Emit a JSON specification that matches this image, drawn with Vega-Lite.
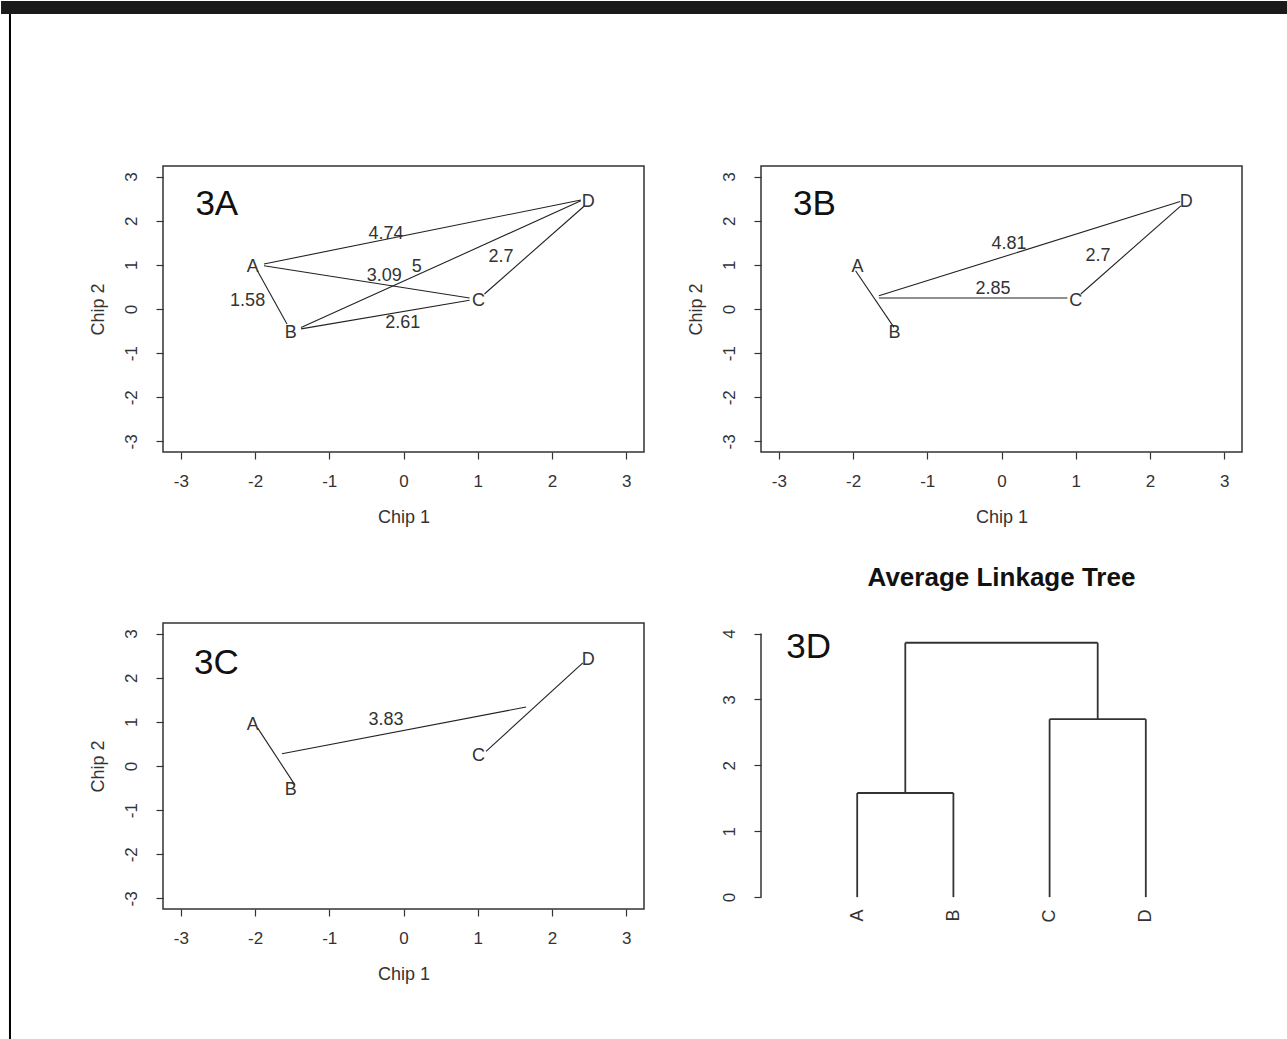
{
  "$schema": "https://vega.github.io/schema/vega-lite/v6.json",
  "padding": 0,
  "background": "white",
  "bounds": "flush",
  "columns": 2,
  "spacing": {"row": 171, "column": 117},
  "config": {
    "font": "Liberation Sans",
    "view": {"stroke": "#333", "strokeWidth": 1.5},
    "axis": {"grid": false, "domain": false, "tickColor": "#333", "tickSize": 7, "tickWidth": 1.2,
      "labelFont": "Liberation Sans", "labelFontSize": 17, "labelColor": "#333",
      "titleFont": "Liberation Sans", "titleFontSize": 18, "titleFontWeight": "normal", "titleColor": "#333",
      "labelExpr": "'' + datum.value"},
    "axisX": {"labelPadding": 14, "titlePadding": 19},
    "axisY": {"labelAngle": -90, "labelAlign": "center", "labelBaseline": "alphabetic", "labelPadding": 20, "titlePadding": 15},
    "text": {"font": "Liberation Sans", "color": "#333"}
  },
  "concat": [
    {
      "width": 481, "height": 286,
      "layer": [
        {
          "data": {"values": [{"part": "bar"}]},
          "mark": {"type": "rect", "color": "#1a1a1a"},
          "encoding": {
            "x": {"datum": -5.422, "type": "quantitative", "scale": {"domain": [-3.24, 3.24], "nice": false, "zero": false}},
            "x2": {"datum": 11.916},
            "y": {"datum": 6.978, "type": "quantitative", "scale": {"domain": [-3.24, 3.24], "nice": false, "zero": false}},
            "y2": {"datum": 6.684}
          }
        },
        {
          "data": {"values": [{"part": "edge"}]},
          "mark": {"type": "rect", "color": "#000"},
          "encoding": {
            "x": {"datum": -5.315, "type": "quantitative"},
            "x2": {"datum": -5.288},
            "y": {"datum": 6.684, "type": "quantitative"},
            "y2": {"datum": -16.56}
          }
        },
        {
          "data": {"values": [
            {"x": -1.88, "y": 1.02, "x2": 2.39, "y2": 2.47},
            {"x": -1.88, "y": 0.98, "x2": 0.89, "y2": 0.25},
            {"x": -1.38, "y": -0.42, "x2": 2.39, "y2": 2.45},
            {"x": -1.38, "y": -0.45, "x2": 0.89, "y2": 0.2},
            {"x": 1.09, "y": 0.34, "x2": 2.44, "y2": 2.34},
            {"x": -1.97, "y": 0.87, "x2": -1.57, "y2": -0.34}
          ]},
          "mark": {"type": "rule", "color": "#222", "strokeWidth": 1.1},
          "encoding": {
            "x": {"field": "x", "type": "quantitative", "scale": {"domain": [-3.24, 3.24], "nice": false, "zero": false},
              "axis": {"values": [-3, -2, -1, 0, 1, 2, 3], "title": "Chip 1"}},
            "y": {"field": "y", "type": "quantitative", "scale": {"domain": [-3.24, 3.24], "nice": false, "zero": false},
              "axis": {"values": [-3, -2, -1, 0, 1, 2, 3], "title": "Chip 2"}},
            "x2": {"field": "x2"},
            "y2": {"field": "y2"}
          }
        },
        {
          "data": {"values": [
            {"label": "A", "x": -2.03, "y": 0.96},
            {"label": "B", "x": -1.52, "y": -0.55},
            {"label": "C", "x": 1.01, "y": 0.19},
            {"label": "D", "x": 2.49, "y": 2.43},
            {"label": "4.74", "x": -0.236, "y": 1.71},
            {"label": "3.09", "x": -0.259, "y": 0.753},
            {"label": "5", "x": 0.178, "y": 0.957},
            {"label": "2.7", "x": 1.315, "y": 1.18},
            {"label": "1.58", "x": -2.1, "y": 0.188},
            {"label": "2.61", "x": -0.011, "y": -0.317}
          ]},
          "mark": {"type": "text", "fontSize": 18, "align": "center", "baseline": "middle"},
          "encoding": {
            "x": {"field": "x", "type": "quantitative"},
            "y": {"field": "y", "type": "quantitative"},
            "text": {"field": "label"}
          }
        },
        {
          "data": {"values": [{"label": "3A", "x": -2.515, "y": 2.375}]},
          "mark": {"type": "text", "fontSize": 35, "align": "center", "baseline": "middle", "color": "#111"},
          "encoding": {
            "x": {"field": "x", "type": "quantitative"},
            "y": {"field": "y", "type": "quantitative"},
            "text": {"field": "label"}
          }
        }
      ]
    },
    {
      "width": 481, "height": 286,
      "layer": [
        {
          "data": {"values": [
            {"x": -1.966, "y": 0.867, "x2": -1.449, "y2": -0.416},
            {"x": -1.652, "y": 0.3, "x2": 2.407, "y2": 2.435},
            {"x": -1.652, "y": 0.249, "x2": 0.888, "y2": 0.249},
            {"x": 1.068, "y": 0.34, "x2": 2.416, "y2": 2.337}
          ]},
          "mark": {"type": "rule", "color": "#222", "strokeWidth": 1.1},
          "encoding": {
            "x": {"field": "x", "type": "quantitative", "scale": {"domain": [-3.24, 3.24], "nice": false, "zero": false},
              "axis": {"values": [-3, -2, -1, 0, 1, 2, 3], "title": "Chip 1"}},
            "y": {"field": "y", "type": "quantitative", "scale": {"domain": [-3.24, 3.24], "nice": false, "zero": false},
              "axis": {"values": [-3, -2, -1, 0, 1, 2, 3], "title": "Chip 2"}},
            "x2": {"field": "x2"},
            "y2": {"field": "y2"}
          }
        },
        {
          "data": {"values": [
            {"label": "A", "x": -1.94, "y": 0.96},
            {"label": "B", "x": -1.44, "y": -0.55},
            {"label": "C", "x": 1.0, "y": 0.19},
            {"label": "D", "x": 2.49, "y": 2.43},
            {"label": "4.81", "x": 0.101, "y": 1.47},
            {"label": "2.7", "x": 1.3, "y": 1.206},
            {"label": "2.85", "x": -0.115, "y": 0.452}
          ]},
          "mark": {"type": "text", "fontSize": 18, "align": "center", "baseline": "middle"},
          "encoding": {
            "x": {"field": "x", "type": "quantitative"},
            "y": {"field": "y", "type": "quantitative"},
            "text": {"field": "label"}
          }
        },
        {
          "data": {"values": [{"label": "3B", "x": -2.52, "y": 2.375}]},
          "mark": {"type": "text", "fontSize": 35, "align": "center", "baseline": "middle", "color": "#111"},
          "encoding": {
            "x": {"field": "x", "type": "quantitative"},
            "y": {"field": "y", "type": "quantitative"},
            "text": {"field": "label"}
          }
        }
      ]
    },
    {
      "width": 481, "height": 286,
      "layer": [
        {
          "data": {"values": [
            {"x": -1.964, "y": 0.859, "x2": -1.463, "y2": -0.428},
            {"x": 1.112, "y": 0.33, "x2": 2.416, "y2": 2.337},
            {"x": -1.638, "y": 0.277, "x2": 1.652, "y2": 1.337}
          ]},
          "mark": {"type": "rule", "color": "#222", "strokeWidth": 1.1},
          "encoding": {
            "x": {"field": "x", "type": "quantitative", "scale": {"domain": [-3.24, 3.24], "nice": false, "zero": false},
              "axis": {"values": [-3, -2, -1, 0, 1, 2, 3], "title": "Chip 1"}},
            "y": {"field": "y", "type": "quantitative", "scale": {"domain": [-3.24, 3.24], "nice": false, "zero": false},
              "axis": {"values": [-3, -2, -1, 0, 1, 2, 3], "title": "Chip 2"}},
            "x2": {"field": "x2"},
            "y2": {"field": "y2"}
          }
        },
        {
          "data": {"values": [
            {"label": "A", "x": -2.03, "y": 0.936},
            {"label": "B", "x": -1.52, "y": -0.54},
            {"label": "C", "x": 1.01, "y": 0.216},
            {"label": "D", "x": 2.49, "y": 2.41},
            {"label": "3.83", "x": -0.236, "y": 1.05}
          ]},
          "mark": {"type": "text", "fontSize": 18, "align": "center", "baseline": "middle"},
          "encoding": {
            "x": {"field": "x", "type": "quantitative"},
            "y": {"field": "y", "type": "quantitative"},
            "text": {"field": "label"}
          }
        },
        {
          "data": {"values": [{"label": "3C", "x": -2.52, "y": 2.34}]},
          "mark": {"type": "text", "fontSize": 35, "align": "center", "baseline": "middle", "color": "#111"},
          "encoding": {
            "x": {"field": "x", "type": "quantitative"},
            "y": {"field": "y", "type": "quantitative"},
            "text": {"field": "label"}
          }
        }
      ]
    },
    {
      "width": 481, "height": 286,
      "view": {"stroke": null},
      "title": {"text": "Average Linkage Tree", "fontSize": 26, "fontWeight": "bold", "font": "Liberation Sans", "color": "#111", "anchor": "middle", "frame": "group", "baseline": "alphabetic", "offset": 11},
      "layer": [
        {
          "data": {"values": [
            {"x": 1, "y": 0, "x2": 1, "y2": 1.58},
            {"x": 2, "y": 0, "x2": 2, "y2": 1.58},
            {"x": 1, "y": 1.58, "x2": 2, "y2": 1.58},
            {"x": 3, "y": 0, "x2": 3, "y2": 2.7},
            {"x": 4, "y": 0, "x2": 4, "y2": 2.7},
            {"x": 3, "y": 2.7, "x2": 4, "y2": 2.7},
            {"x": 1.5, "y": 1.58, "x2": 1.5, "y2": 3.86},
            {"x": 3.5, "y": 2.7, "x2": 3.5, "y2": 3.86},
            {"x": 1.5, "y": 3.86, "x2": 3.5, "y2": 3.86}
          ]},
          "mark": {"type": "rule", "color": "#333", "strokeWidth": 1.8},
          "encoding": {
            "x": {"field": "x", "type": "quantitative", "scale": {"domain": [0, 5], "nice": false, "zero": false},
              "axis": {"values": [1, 2, 3, 4], "title": null, "ticks": false, "tickSize": 0, "labelPadding": 0,
                "labelExpr": "datum.value == 1 ? 'A' : datum.value == 2 ? 'B' : datum.value == 3 ? 'C' : 'D'",
                "labelAngle": -90, "labelAlign": "right", "labelBaseline": "middle", "labelFontSize": 18}},
            "y": {"field": "y", "type": "quantitative", "scale": {"domain": [-0.18, 4.16], "nice": false, "zero": false},
              "axis": {"values": [0, 1, 2, 3, 4], "title": null}},
            "x2": {"field": "x2"},
            "y2": {"field": "y2"}
          }
        },
        {
          "data": {"values": [{"part": "axis"}]},
          "mark": {"type": "rule", "color": "#333", "strokeWidth": 1.5},
          "encoding": {
            "x": {"datum": 0, "type": "quantitative"},
            "y": {"datum": 0, "type": "quantitative"},
            "y2": {"datum": 4}
          }
        },
        {
          "data": {"values": [{"label": "3D", "x": 0.495, "y": 3.8}]},
          "mark": {"type": "text", "fontSize": 35, "align": "center", "baseline": "middle", "color": "#111"},
          "encoding": {
            "x": {"field": "x", "type": "quantitative"},
            "y": {"field": "y", "type": "quantitative"},
            "text": {"field": "label"}
          }
        }
      ]
    }
  ]
}
